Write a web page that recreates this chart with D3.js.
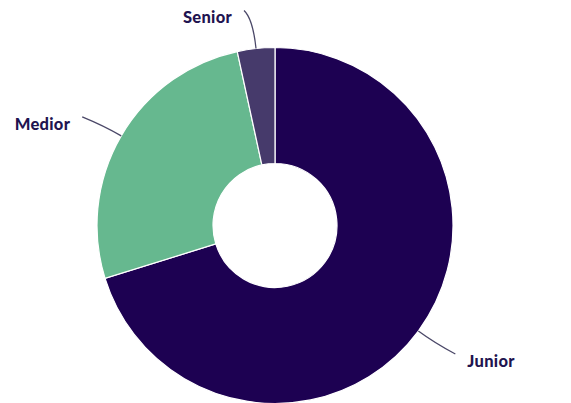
<!DOCTYPE html>
<html>
<head>
<meta charset="utf-8">
<script src="https://cdn.jsdelivr.net/npm/d3@7"></script>
<style>
  html, body { margin: 0; padding: 0; background: #fff; }
  svg { display: block; }
</style>
</head>
<body>
<svg></svg>
<script>
const categories = ["Junior", "Medior", "Senior"];
const values = [70.2, 26.4, 3.4];
const colors = ["#1d0152", "#66b88f", "#463a6b"];

// label leader end offsets from the outer arc point (layout only)
const labelOffsets = [[37, 23], [-39, -19], [-12, -38]];

const width = 571;
const height = 403;
const cx = 275, cy = 225.5;
const outerR = 178, innerR = 62;

const svg = d3.select("svg")
    .attr("width", width)
    .attr("height", height)
    .attr("viewBox", [0, 0, width, height]);

const data = categories.map((c, i) => ({name: c, value: values[i], color: colors[i], off: labelOffsets[i]}));

const pie = d3.pie()
    .sort(null)
    .value(d => d.value);

const arc = d3.arc()
    .innerRadius(innerR)
    .outerRadius(outerR);

const arcs = pie(data);

const g = svg.append("g")
    .attr("transform", `translate(${cx},${cy})`);

g.selectAll("path.slice")
  .data(arcs)
  .join("path")
    .attr("class", "slice")
    .attr("fill", d => d.data.color)
    .attr("stroke", "#fff")
    .attr("stroke-width", 1.2)
    .attr("d", arc);

// point on a radius at the slice mid angle
const radial = (d, r) => {
    const a = (d.startAngle + d.endAngle) / 2;
    return [Math.sin(a) * r, -Math.cos(a) * r];
};

const link = g.append("g");
arcs.forEach(d => {
    const p0 = radial(d, outerR);
    const ctrl = radial(d, outerR + (d.data.name === "Senior" ? 30 : 20));
    const p2 = [p0[0] + d.data.off[0], p0[1] + d.data.off[1]];
    const path = d3.path();
    path.moveTo(p0[0], p0[1]);
    path.quadraticCurveTo(ctrl[0], ctrl[1], p2[0], p2[1]);
    link.append("path")
        .attr("d", path.toString())
        .attr("fill", "none")
        .attr("stroke", "#4b4868")
        .attr("stroke-width", 1.3);

    const right = p2[0] > 0;
    g.append("text")
        .attr("x", p2[0] + (right ? 12 : -12))
        .attr("y", p2[1] + 7)
        .attr("dy", "0.35em")
        .attr("text-anchor", right ? "start" : "end")
        .attr("font-family", "Lato, 'Open Sans', sans-serif")
        .attr("font-weight", 900)
        .attr("font-size", 16.5)
        .attr("letter-spacing", 0.3)
        .attr("fill", "#1f1450")
        .text(d.data.name);
});
</script>
</body>
</html>
